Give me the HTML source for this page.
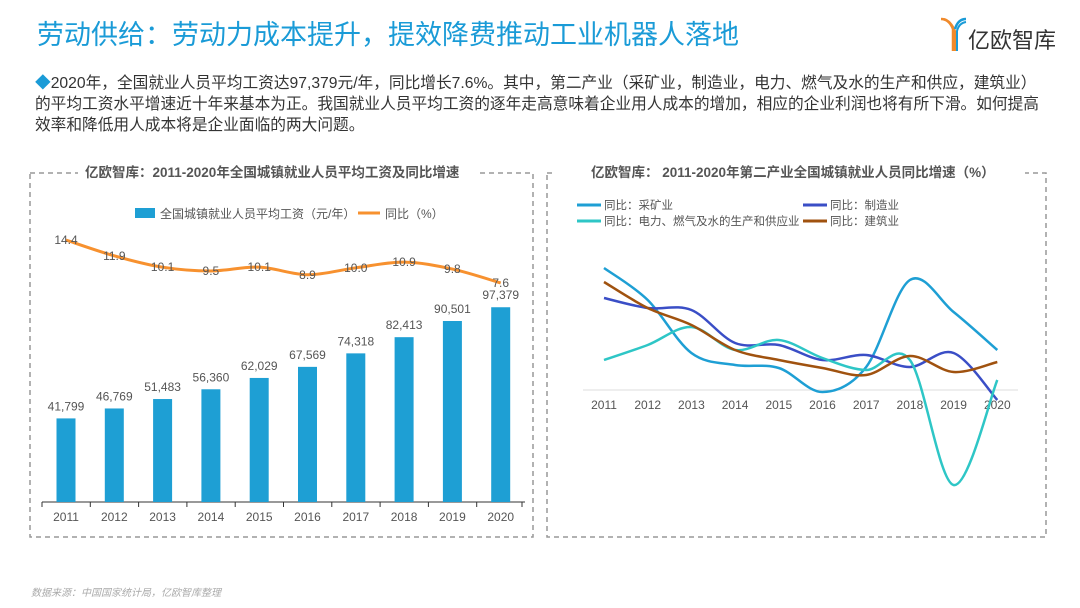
<!DOCTYPE html>
<html><head><meta charset="utf-8">
<style>
body{margin:0;width:1080px;height:608px;background:#fff;overflow:hidden;font-family:"Liberation Sans","Noto Sans CJK SC",sans-serif;}
svg{position:absolute;left:0;top:0}
</style></head>
<body>
<svg width="1080" height="608" font-family="Liberation Sans, Noto Sans CJK SC, sans-serif">
  <text x="37" y="44" font-size="27" fill="#1a9bd7">劳动供给：劳动力成本提升，提效降费推动工业机器人落地</text>
  <g>
    <path d="M941 19 q8 0 12 10 l0 22" stroke="#f08a2c" stroke-width="2.5" fill="none"/>
    <path d="M944 19 q7 2 11 12 l0 20" stroke="#f08a2c" stroke-width="2" fill="none"/>
    <path d="M966 19 q-8 0 -11 10" stroke="#1a9bd7" stroke-width="2.5" fill="none"/>
    <path d="M957 51 l0 -20 q2 -8 9 -9" stroke="#1a9bd7" stroke-width="2" fill="none"/>
    <text x="968" y="48" font-size="22" fill="#333">亿欧智库</text>
  </g>
  <g font-size="15.7" fill="#333">
    <text x="35" y="88"><tspan fill="#1a9bd7">◆</tspan>2020年，全国就业人员平均工资达97,379元/年，同比增长7.6%。其中，第二产业（采矿业，制造业，电力、燃气及水的生产和供应，建筑业）</text>
    <text x="35" y="109">的平均工资水平增速近十年来基本为正。我国就业人员平均工资的逐年走高意味着企业用人成本的增加，相应的企业利润也将有所下滑。如何提高</text>
    <text x="35" y="130">效率和降低用人成本将是企业面临的两大问题。</text>
  </g>
  <rect x="30" y="173" width="503" height="364" fill="none" stroke="#999" stroke-width="1.5" stroke-dasharray="5,4"/>
  <rect x="547" y="173" width="499" height="364" fill="none" stroke="#999" stroke-width="1.5" stroke-dasharray="5,4"/>
  <rect x="78" y="160" width="400" height="24" fill="#fff"/>
  <text x="85" y="177" font-size="13.5" font-weight="bold" fill="#555">亿欧智库：2011-2020年全国城镇就业人员平均工资及同比增速</text>
  <rect x="555" y="160" width="470" height="24" fill="#fff"/>
  <text x="591" y="177" font-size="13.5" font-weight="bold" fill="#555">亿欧智库： 2011-2020年第二产业全国城镇就业人员同比增速（%）</text>
  <g id="left"></g>
  <g id="right"></g>
  <text x="31" y="596" font-size="10" font-style="italic" fill="#aaa">数据来源：中国国家统计局，亿欧智库整理</text>
</svg>
<script>
const years=["2011","2012","2013","2014","2015","2016","2017","2018","2019","2020"];
const wages=[41799,46769,51483,56360,62029,67569,74318,82413,90501,97379];
const wageGrowth=[14.4,11.9,10.1,9.5,10.1,8.9,10.0,10.9,9.8,7.6];
const mining=[12.2,9.0,3.7,2.5,2.2,-0.2,2.3,11.0,7.8,4.0];
const manufacturing=[9.2,8.2,8.0,4.7,4.5,3.0,3.5,2.3,3.7,-1.0];
const utilities=[3.0,4.5,6.3,4.0,5.0,3.2,2.0,3.0,-9.5,1.0];
const construction=[10.8,8.2,6.5,4.0,3.0,2.2,1.5,3.4,1.8,2.8];
const seriesNames=["同比：采矿业","同比：制造业","同比：电力、燃气及水的生产和供应业","同比：建筑业"];
const NS="http://www.w3.org/2000/svg";
function mk(p,t,a){const e=document.createElementNS(NS,t);for(const k in a)e.setAttribute(k,a[k]);p.appendChild(e);return e;}
function smooth(pts){let d="M"+pts[0][0]+" "+pts[0][1];for(let i=0;i<pts.length-1;i++){const p0=pts[i-1]||pts[i],p1=pts[i],p2=pts[i+1],p3=pts[i+2]||p2;const c1=[p1[0]+(p2[0]-p0[0])/6,p1[1]+(p2[1]-p0[1])/6],c2=[p2[0]-(p3[0]-p1[0])/6,p2[1]-(p3[1]-p1[1])/6];d+=" C"+c1+" "+c2+" "+p2;}return d;}
const L=document.getElementById('left');
const lx=i=>66+i*48.3, ly=v=>502-v*0.002, gy=v=>240+(14.4-v)*6.32;
let e;
e=mk(L,'rect',{x:135,y:208,width:20,height:10,fill:'#1e9fd4'});

e=mk(L,'text',{x:160,y:218,'font-size':12,fill:'#555'});e.textContent='全国城镇就业人员平均工资（元/年）';

e=mk(L,'line',{x1:358,y1:213,x2:380,y2:213,stroke:'#f7912f','stroke-width':3});

e=mk(L,'text',{x:385,y:218,'font-size':12,fill:'#555'});e.textContent='同比（%）';

e=mk(L,'line',{x1:42,y1:502,x2:525,y2:502,stroke:'#333','stroke-width':1});

years.forEach((y,i)=>{
  let t=mk(L,'line',{x1:42+i*48.3,y1:502,x2:42+i*48.3,y2:507,stroke:'#333'});
  
  let b=mk(L,'rect',{x:lx(i)-9.5,y:ly(wages[i]),width:19,height:502-ly(wages[i]),fill:'#1e9fd4'});
  
  let v=mk(L,'text',{x:lx(i),y:ly(wages[i])-8,'font-size':12,fill:'#555','text-anchor':'middle'});v.textContent=wages[i].toLocaleString('en-US');
  
  let a=mk(L,'text',{x:lx(i),y:521,'font-size':12,fill:'#555','text-anchor':'middle'});a.textContent=y;
  
});
e=mk(L,'line',{x1:522,y1:502,x2:522,y2:507,stroke:'#333'});

e=mk(L,'path',{d:smooth(wageGrowth.map((v,i)=>[lx(i),gy(v)])),fill:'none',stroke:'#f7912f','stroke-width':3});

wageGrowth.forEach((v,i)=>{let t=mk(L,'text',{x:lx(i),y:gy(v)+4,'font-size':12,fill:'#555','text-anchor':'middle'});t.textContent=v.toFixed(1);
  });
const R=document.getElementById('right');
const rx=i=>604+i*43.7, ry=v=>390-v*10;
const colors=['#1e9fd4','#3a4ec6','#2ec6c6','#a0520f'];
const data=[mining,manufacturing,utilities,construction];
const legPos=[[577,205],[803,205],[577,221],[803,221]];
seriesNames.forEach((n,k)=>{
  let l=mk(R,'line',{x1:legPos[k][0],y1:legPos[k][1],x2:legPos[k][0]+24,y2:legPos[k][1],stroke:colors[k],'stroke-width':3});
  
  let t=mk(R,'text',{x:legPos[k][0]+27,y:legPos[k][1]+4,'font-size':11.5,fill:'#555'});t.textContent=n;
  
});
e=mk(R,'line',{x1:583,y1:390,x2:1018,y2:390,stroke:'#ddd','stroke-width':1});

years.forEach((y,i)=>{let a=mk(R,'text',{x:rx(i),y:409,'font-size':12,fill:'#555','text-anchor':'middle'});a.textContent=y;
  });
data.forEach((s,k)=>{let p=mk(R,'path',{d:smooth(s.map((v,i)=>[rx(i),ry(v)])),fill:'none',stroke:colors[k],'stroke-width':2.5});
  });
</script>
</body></html>
